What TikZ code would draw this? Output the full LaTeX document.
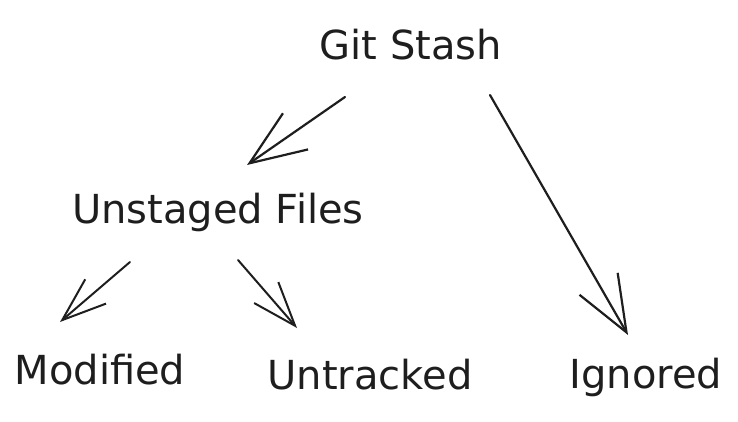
\documentclass[tikz,border=0pt]{standalone}
\usepackage{fontspec}
\setmainfont{DejaVu Sans}
\usetikzlibrary{arrows.meta}
\definecolor{ink}{HTML}{1E1E1E}

\begin{document}
\begin{tikzpicture}[x=1pt, y=-1pt,
    word/.style={text=ink, font=\fontsize{40}{48}\selectfont, inner sep=0pt},
    arrbig/.style={draw=ink, line width=2.2pt, line cap=round, line join=round,
        -{Straight Barb[length=56pt, width=44pt]}},
    arrsmall/.style={draw=ink, line width=2pt, line cap=round, line join=round,
        -{Straight Barb[length=44pt, width=32pt]}}]
    % Canvas
    \useasboundingbox (0,0) rectangle (738,422);

    % Draw nodes
    \node[word] (stash) at (411,45) {Git Stash};
    \node[word] (unstaged) at (218,212) {Unstaged Files};
    \node[word] (modified) at (100,370) {Modified};
    \node[word] (untracked) at (370,375) {Untracked};
    \node[word] (ignored) at (646,377) {Ignored};

    % Draw connections
    \draw[arrbig] ([shift={(-66,52)}]stash.center) -- ([shift={(29,-47)}]unstaged.center);
    \draw[arrbig] ([shift={(79,50)}]stash.center) -- ([shift={(-18,-42)}]ignored.center);
    \draw[arrsmall] ([shift={(-88,50)}]unstaged.center) -- ([shift={(-40,-48)}]modified.center);
    \draw[arrsmall] ([shift={(20,48)}]unstaged.center) -- ([shift={(-73,-47)}]untracked.center);
\end{tikzpicture}
\end{document}
